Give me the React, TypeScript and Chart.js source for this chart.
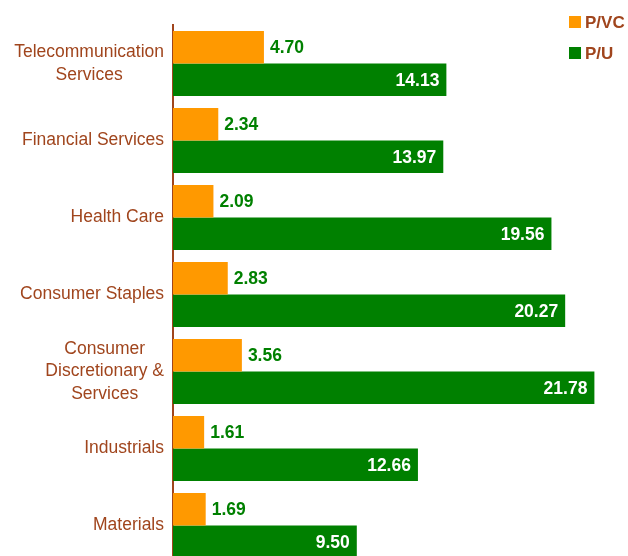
import React, { useEffect, useRef } from "react";
import { Chart, registerables } from "chart.js";

Chart.register(...registerables);

const categories: string[][] = [
  ["Telecommunication", "Services"],
  ["Financial Services"],
  ["Health Care"],
  ["Consumer Staples"],
  ["Consumer", "Discretionary &", "Services"],
  ["Industrials"],
  ["Materials"],
];
const seriesNames = ["P/VC", "P/U"];
const pvcValues = [4.7, 2.34, 2.09, 2.83, 3.56, 1.61, 1.69];
const puValues = [14.13, 13.97, 19.56, 20.27, 21.78, 12.66, 9.5];

const ORANGE = "#FF9900";
const GREEN = "#008000";
const BROWN = "#A0451D";
const FONT = "'Liberation Sans', Arial, Helvetica, sans-serif";

const labelPlugin = {
  id: "customLabels",
  afterDraw(chart: any) {
    const ctx = chart.ctx;
    const yScale = chart.scales.y;
    ctx.save();
    // category labels: block right-aligned, lines centered
    ctx.font = `17.5px ${FONT}`;
    ctx.fillStyle = BROWN;
    ctx.textAlign = "center";
    ctx.textBaseline = "middle";
    const lineH = 22.5;
    const rightEdge = yScale.right - 9;
    categories.forEach((lines, i) => {
      const cy = yScale.getPixelForValue(i);
      const w = Math.max(...lines.map((l) => ctx.measureText(l).width));
      const cx = rightEdge - w / 2;
      const start = cy - ((lines.length - 1) * lineH) / 2;
      lines.forEach((l, j) => ctx.fillText(l, cx, start + j * lineH));
    });
    // legend
    const colors = [ORANGE, GREEN];
    const ys = [22, 53];
    ctx.font = `bold 17px ${FONT}`;
    ctx.textAlign = "left";
    seriesNames.forEach((name, i) => {
      ctx.fillStyle = colors[i];
      ctx.fillRect(chart.width - 59, ys[i] - 6, 12, 12);
      ctx.fillStyle = BROWN;
      ctx.fillText(name, chart.width - 43, ys[i] + 1);
    });
    ctx.restore();
  },
  afterDatasetsDraw(chart: any) {
    const ctx = chart.ctx;
    ctx.save();
    ctx.font = `bold 17.5px ${FONT}`;
    ctx.textBaseline = "middle";
    chart.data.datasets.forEach((ds: any, di: number) => {
      const meta = chart.getDatasetMeta(di);
      meta.data.forEach((el: any, i: number) => {
        const txt = Number(ds.data[i]).toFixed(2);
        if (di === 0) {
          ctx.fillStyle = GREEN;
          ctx.textAlign = "left";
          ctx.fillText(txt, el.x + 6, el.y + 1);
        } else {
          ctx.fillStyle = "#FFFFFF";
          ctx.textAlign = "right";
          ctx.fillText(txt, el.x - 7, el.y + 1);
        }
      });
    });
    ctx.restore();
  },
};

export default function App() {
  const ref = useRef<HTMLCanvasElement>(null);
  useEffect(() => {
    if (!ref.current) return;
    const chart = new Chart(ref.current, {
      type: "bar",
      data: {
        labels: categories.map((c) => c.join(" ")),
        datasets: [
          { label: seriesNames[0], data: pvcValues, backgroundColor: ORANGE, categoryPercentage: 0.842, barPercentage: 1 },
          { label: seriesNames[1], data: puValues, backgroundColor: GREEN, categoryPercentage: 0.842, barPercentage: 1 },
        ],
      },
      options: {
        indexAxis: "y",
        animation: false,
        responsive: false,
        layout: { padding: { top: 25, bottom: 8, left: 0, right: 10 } },
        plugins: { legend: { display: false }, tooltip: { enabled: false } },
        scales: {
          x: { display: false, min: 0, max: 23 },
          y: {
            grid: { display: false, drawTicks: false },
            border: { display: true, color: BROWN, width: 2 },
            ticks: { display: false },
            afterFit: (scale: any) => {
              scale.width = 173;
            },
          },
        },
      },
      plugins: [labelPlugin],
    });
    return () => chart.destroy();
  }, []);
  return (
    <div style={{ position: "fixed", left: 0, top: 0, width: 628, height: 556, overflow: "hidden", background: "#fff" }}>
      <canvas ref={ref} width={628} height={572} />
    </div>
  );
}
